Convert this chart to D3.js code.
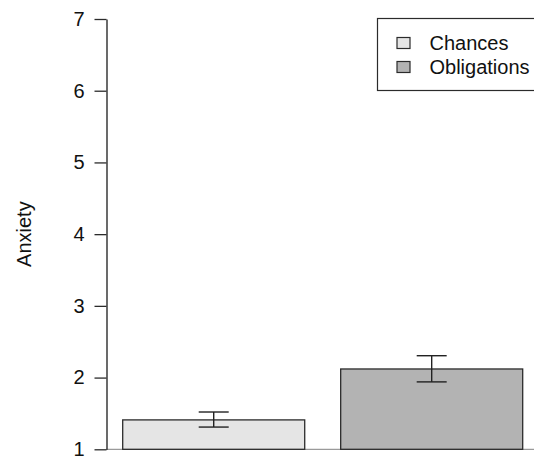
<!DOCTYPE html>
<html>
<head>
<meta charset="utf-8">
<script src="https://cdn.jsdelivr.net/npm/d3@7"></script>
<style>
  html, body { margin: 0; padding: 0; background: #fff; }
  svg { display: block; font-family: "Liberation Sans", Arial, Helvetica, sans-serif; }
</style>
</head>
<body>
<svg id="chart" width="534" height="459"></svg>
<script>
// Conditions and their mean anxiety with standard-error bounds
const categories = ["Chances", "Obligations"];
const means = [1.41, 2.12];
const errLow = [1.31, 1.94];
const errHigh = [1.52, 2.305];
const fills = ["#e5e5e5", "#b3b3b3"];
const yTicks = [1, 2, 3, 4, 5, 6, 7];
const yLabel = "Anxiety";

const svg = d3.select("#chart");
const W = 534;
const FONT = 20;

const y = d3.scaleLinear().domain([1, 7]).range([449.3, 19]);
const x = d3.scaleBand().domain(categories).range([122.7, 522.7])
  .paddingInner(0.165).paddingOuter(0);

// Baseline under the bars
svg.append("line")
  .attr("x1", 106).attr("x2", W)
  .attr("y1", y(1)).attr("y2", y(1))
  .attr("stroke", "#9a9a9a").attr("stroke-width", 1.3);

// Bars
svg.selectAll("rect.bar").data(categories).join("rect")
  .attr("class", "bar")
  .attr("x", d => x(d))
  .attr("width", x.bandwidth())
  .attr("y", (d, i) => y(means[i]))
  .attr("height", (d, i) => y(1) - y(means[i]))
  .attr("fill", (d, i) => fills[i])
  .attr("stroke", "#2b2b2b").attr("stroke-width", 1.3);

// Error bars
const cap = 15;
const eb = svg.selectAll("g.err").data(categories).join("g").attr("class", "err")
  .attr("stroke", "#222").attr("stroke-width", 1.4);
eb.append("line")
  .attr("x1", d => x(d) + x.bandwidth() / 2).attr("x2", d => x(d) + x.bandwidth() / 2)
  .attr("y1", (d, i) => y(errLow[i])).attr("y2", (d, i) => y(errHigh[i]));
eb.append("line")
  .attr("x1", d => x(d) + x.bandwidth() / 2 - cap).attr("x2", d => x(d) + x.bandwidth() / 2 + cap)
  .attr("y1", (d, i) => y(errLow[i])).attr("y2", (d, i) => y(errLow[i]));
eb.append("line")
  .attr("x1", d => x(d) + x.bandwidth() / 2 - cap).attr("x2", d => x(d) + x.bandwidth() / 2 + cap)
  .attr("y1", (d, i) => y(errHigh[i])).attr("y2", (d, i) => y(errHigh[i]));

// Y axis
const axis = svg.append("g")
  .attr("transform", "translate(106.5,0)")
  .call(d3.axisLeft(y).tickValues(yTicks).tickFormat(d3.format("d"))
    .tickSize(12).tickPadding(10).tickSizeOuter(0));
axis.attr("font-size", FONT).attr("font-family", null);
axis.select(".domain").attr("stroke", "#2b2b2b").attr("stroke-width", 1.4);
axis.selectAll(".tick line").attr("stroke", "#2b2b2b").attr("stroke-width", 1.3);
axis.selectAll(".tick text").attr("fill", "#111");

// Y axis title
svg.append("text")
  .attr("transform", `translate(31,${(y(1) + y(7)) / 2}) rotate(-90)`)
  .attr("text-anchor", "middle")
  .attr("font-size", FONT)
  .attr("fill", "#111")
  .text(yLabel);

// Legend
const lg = svg.append("g");
lg.append("rect")
  .attr("x", 377.5).attr("y", 18.5).attr("width", 200).attr("height", 72)
  .attr("fill", "#fff").attr("stroke", "#2b2b2b").attr("stroke-width", 1.2);
const rows = lg.selectAll("g.row").data(categories).join("g").attr("class", "row")
  .attr("transform", (d, i) => `translate(0,${43 + i * 24})`);
rows.append("rect")
  .attr("x", 397).attr("y", -5.5).attr("width", 13).attr("height", 11)
  .attr("fill", (d, i) => fills[i]).attr("stroke", "#2b2b2b").attr("stroke-width", 1.2);
rows.append("text")
  .attr("x", 429.5).attr("y", 7)
  .attr("font-size", FONT).attr("fill", "#111")
  .text(d => d);
</script>
</body>
</html>
